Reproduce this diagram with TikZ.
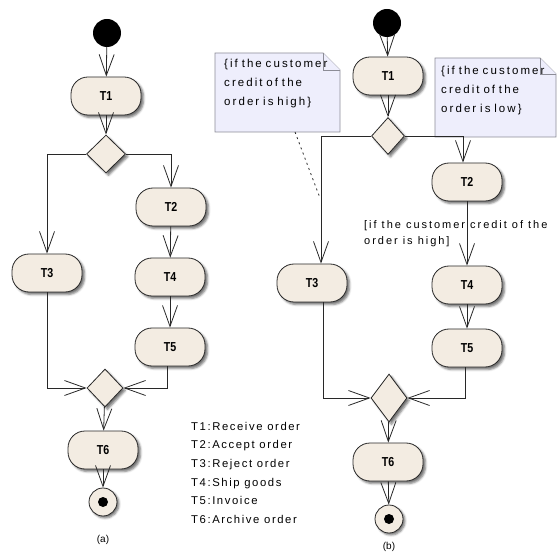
\documentclass[tikz,border=0pt]{standalone}
\usepackage{fontspec}
\setmainfont{Liberation Sans}
\newfontfamily\labfont[LetterSpace=14]{Liberation Sans}
\newfontfamily\notefont[LetterSpace=18]{Liberation Sans}
\newfontfamily\tfont[FakeStretch=0.82]{Liberation Sans}
\usetikzlibrary{arrows.meta,shapes.geometric,shadows.blur}
\definecolor{nodefill}{RGB}{243,236,226}
\definecolor{notefill}{RGB}{238,238,252}
\definecolor{notedraw}{RGB}{140,140,150}
\definecolor{ln}{RGB}{40,40,40}
\tikzset{
 act/.style={draw=ln, line width=0.8pt, fill=nodefill, rounded corners=17pt,
   minimum width=70pt, minimum height=38pt, inner sep=0pt,
   font=\tfont\bfseries\fontsize{13}{13}\selectfont,
   blur shadow={shadow xshift=2.5pt, shadow yshift=-2.5pt, shadow blur steps=4, shadow opacity=55}},
 dec/.style={diamond, draw=ln, line width=0.8pt, fill=nodefill, inner sep=0pt,
   blur shadow={shadow xshift=2.5pt, shadow yshift=-2.5pt, shadow blur steps=4, shadow opacity=55}},
 startnode/.style={circle, fill=black, minimum size=28pt, inner sep=0pt},
 finnode/.style={circle, draw=ln, line width=0.8pt, fill=nodefill, minimum size=28pt, inner sep=0pt,
   blur shadow={shadow xshift=2pt, shadow yshift=-2pt, shadow blur steps=4, shadow opacity=55},
   path picture={\fill[black] (path picture bounding box.center) circle (5pt);}},
 flow/.style={draw=ln, line width=0.8pt, -{Straight Barb[length=21pt,width=15pt,line width=0.8pt]}},
 notebox/.style={inner sep=0pt, text width=118pt, align=left,
   font=\notefont\fontsize{11.5}{19}\selectfont},
 notepath/.style={draw=notedraw, fill=notefill, line width=0.8pt},
 txt/.style={inner sep=0pt, align=left, font=\labfont\fontsize{11.3}{18.6}\selectfont},
}
\begin{document}
\begin{tikzpicture}[x=1pt,y=-1pt]
\useasboundingbox (0,0) rectangle (557,553);

% ---------- (a) ----------
\node[startnode] (aI) at (107,33) {};
\node[act] (aT1) at (106,96) {T1};
\node[dec, minimum width=39pt, minimum height=38pt] (aD1) at (106,154) {};
\node[act] (aT2) at (171,207) {T2};
\node[act] (aT3) at (47,273) {T3};
\node[act] (aT4) at (170,277) {T4};
\node[act] (aT5) at (170,347) {T5};
\node[dec, minimum width=36pt, minimum height=38pt] (aD2) at (105,388) {};
\node[act] (aT6) at (103,450) {T6};
\node[finnode] (aF) at (103,502) {};
\node[font=\fontsize{10}{12}\selectfont] (alab) at (103,540) {(a)};

\draw[flow] (aI) -- (aT1);
\draw[flow] (aT1) -- (aD1);
\draw[flow] (aD1.west) -| (aT3.north);
\draw[flow] (aD1.east) -| (aT2.north);
\draw[flow] (aT2) -- (aT4);
\draw[flow] (aT4) -- (aT5);
\draw[flow] (aT3.south) |- (aD2.west);
\draw[flow] ([xshift=-3pt]aT5.south) |- (aD2.east);
\draw[flow] (aD2) -- (aT6);
\draw[flow] (aT6) -- (aF);

% legend
\node[txt, anchor=north west] (leg) at (191,422) {T1:Receive order\\T2:Accept order\\T3:Reject order\\T4:Ship goods\\T5:Invoice\\T6:Archive order};

% ---------- (b) ----------
\node[startnode] (bI) at (387,23) {};
\node[act] (bT1) at (388,76) {T1};
\node[dec, minimum width=33pt, minimum height=37pt] (bD1) at (388,136) {};
\node[act] (bT2) at (467,182) {T2};
\node[act] (bT3) at (312,283) {T3};
\node[act] (bT4) at (467,285) {T4};
\node[act] (bT5) at (467,348) {T5};
\node[dec, minimum width=36pt, minimum height=48pt] (bD2) at (389,398) {};
\node[act] (bT6) at (388,462) {T6};
\node[finnode] (bF) at (389,519) {};
\node[font=\fontsize{10}{12}\selectfont] (blab) at (389,547) {(b)};

% notes
\path[notepath] (215,53) -- (323,53) -- (340,70) -- (340,132) -- (215,132) -- cycle;
\path[notepath] (323,53) -- (323,70) -- (340,70);
\node[notebox, anchor=north west] (N1) at (224,59) {\{if the customer\\credit of the\\order is high\}};

\path[notepath] (435,58) -- (540,58) -- (556,74) -- (556,137) -- (435,137) -- cycle;
\path[notepath] (540,58) -- (540,74) -- (556,74);
\node[notebox, anchor=north west] (N2) at (441,66) {\{if the customer\\credit of the\\order is low\}};

\draw[flow] (bI) -- (bT1);
\draw[flow] (bT1) -- (bD1);
\draw[flow] (bD1.west) -| ([xshift=9pt]bT3.north);
\draw[flow] (bD1.east) -| ([xshift=-4pt]bT2.north);
\draw[flow] (bT2) -- (bT4);
\draw[flow] (bT4) -- (bT5);
\draw[flow] ([xshift=11pt]bT3.south) |- (bD2.west);
\draw[flow] ([xshift=-2pt]bT5.south) |- (bD2.east);
\draw[flow] (bD2) -- (bT6);
\draw[flow] (bT6) -- (bF);

\coordinate (n1end) at (295,132);
\coordinate (dotend) at (320,198);
\draw[ln, line width=0.8pt, dash pattern=on 2pt off 3.5pt] (n1end) -- (dotend);

\node[inner sep=0pt, align=left, anchor=north west, font=\notefont\fontsize{11}{16}\selectfont] (guard) at (364,220) {[if the customer credit of the\\order is high]};
\end{tikzpicture}
\end{document}
